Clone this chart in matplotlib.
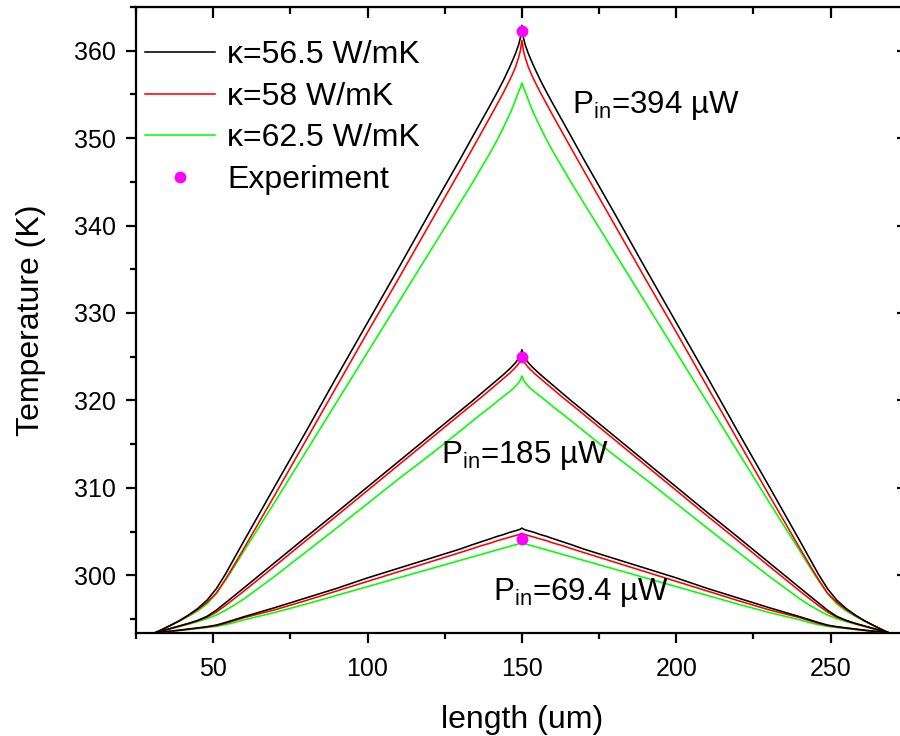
import matplotlib
matplotlib.use("Agg")
from matplotlib import pyplot as plt
from matplotlib.ticker import MultipleLocator

# positions along the bridge (um) from the left clamp up to the heater at 150 um.
# The profiles are symmetric, so the right half reuses the same readings.
x_half = [25, 31, 33, 36, 39, 42, 45, 48, 51, 54, 57, 60, 70, 80, 90, 100, 110, 120,
          130, 134, 137, 140, 142, 144, 146, 147, 148, 149, 149.5, 150]

# temperature (K), left half
T_394_k565 = [293.4, 293.4, 293.72, 294.25, 294.8, 295.45, 296.2, 297.15, 298.45, 300.15, 302.05,
              303.95, 310.2, 316.4, 322.7, 328.9, 335.1, 341.4, 347.6, 350.15, 352.05, 353.95,
              355.25, 356.6, 358.1, 358.9, 359.75, 360.75, 361.5, 362.9]
T_394_k58 = [293.4, 293.4, 293.71, 294.22, 294.76, 295.38, 296.08, 296.9, 297.95, 299.55, 301.3,
             303.1, 309.2, 315.4, 321.6, 327.8, 333.9, 340.1, 346.3, 348.8, 350.7, 352.6,
             353.9, 355.2, 356.6, 357.35, 358.2, 359.3, 360.0, 361.2]
T_394_k625 = [293.4, 293.4, 293.72, 294.22, 294.75, 295.3, 295.92, 296.72, 297.9, 299.42, 301.08,
              302.8, 308.4, 314.1, 319.8, 325.5, 331.2, 336.9, 342.6, 344.9, 346.7, 348.5,
              349.8, 351.2, 352.7, 353.5, 354.45, 355.35, 355.8, 356.3]

T_185_k565 = [293.4, 293.4, 293.6, 293.9, 294.2, 294.5, 294.84, 295.3, 296.0, 296.85, 297.71,
              298.57, 301.46, 304.35, 307.2, 310.1, 313.0, 315.9, 318.8, 319.95, 320.85, 321.75,
              322.35, 322.95, 323.6, 323.95, 324.35, 324.85, 325.2, 325.8]
T_185_k58 = [293.4, 293.4, 293.59, 293.88, 294.17, 294.46, 294.79, 295.2, 295.78, 296.55, 297.37,
             298.2, 301.06, 303.95, 306.8, 309.7, 312.6, 315.5, 318.4, 319.55, 320.4, 321.3,
             321.9, 322.5, 323.1, 323.45, 323.8, 324.25, 324.55, 325.0]
T_185_k625 = [293.4, 293.4, 293.58, 293.85, 294.12, 294.4, 294.7, 295.03, 295.45, 296.0, 296.62,
              297.3, 299.9, 302.65, 305.4, 308.2, 311.0, 313.7, 316.5, 317.65, 318.5, 319.3,
              319.9, 320.45, 321.0, 321.3, 321.65, 322.05, 322.35, 322.8]

T_69_k565 = [293.4, 293.4, 293.48, 293.6, 293.72, 293.85, 293.98, 294.12, 294.3, 294.6, 294.93,
             295.26, 296.3, 297.4, 298.5, 299.7, 300.8, 301.9, 303.0, 303.5, 303.85, 304.2,
             304.45, 304.65, 304.9, 305.0, 305.1, 305.2, 305.28, 305.4]
T_69_k58 = [293.4, 293.4, 293.48, 293.59, 293.7, 293.82, 293.95, 294.08, 294.24, 294.5, 294.82,
            295.15, 296.05, 297.1, 298.2, 299.3, 300.4, 301.5, 302.6, 303.05, 303.4, 303.7,
            303.95, 304.15, 304.35, 304.45, 304.55, 304.65, 304.72, 304.8]
T_69_k625 = [293.4, 293.4, 293.47, 293.57, 293.68, 293.79, 293.9, 294.02, 294.15, 294.35, 294.6,
             294.9, 295.75, 296.7, 297.7, 298.7, 299.7, 300.7, 301.7, 302.1, 302.4, 302.7,
             302.9, 303.1, 303.3, 303.4, 303.5, 303.6, 303.65, 303.7]

# measured hot-spot temperatures
exp_x = [150, 150, 150]
exp_T = [362.2, 325.0, 304.2]

kappa_labels = ["\u03ba=56.5 W/mK", "\u03ba=58 W/mK", "\u03ba=62.5 W/mK"]
powers = ["394", "185", "69.4"]

# full bridge: left half, then the mirrored positions 150.5 ... 275
length = x_half + [300 - v for v in x_half[-2::-1]]


def full_profile(half):
    # right half reads the same temperatures back down
    return list(half) + list(half[-2::-1])


plt.rcParams["font.family"] = ["Liberation Sans", "DejaVu Sans"]
plt.rcParams["mathtext.fontset"] = "custom"
plt.rcParams["mathtext.rm"] = "Liberation Sans"
plt.rcParams["mathtext.it"] = "Liberation Sans:italic"

fig = plt.figure(figsize=(9, 7.36), dpi=100)
ax = fig.add_axes([0.1511, 0.140, 0.8576, 0.8505])

groups = [
    (T_394_k565, T_394_k58, T_394_k625),
    (T_185_k565, T_185_k58, T_185_k625),
    (T_69_k565, T_69_k58, T_69_k625),
]
for i, (tb, tr, tg) in enumerate(groups):
    ax.plot(length, full_profile(tg), color="#00ff00", lw=1.15,
            label=kappa_labels[2] if i == 0 else None, zorder=2)
    ax.plot(length, full_profile(tr), color="#ff0000", lw=1.15,
            label=kappa_labels[1] if i == 0 else None, zorder=3)
    ax.plot(length, full_profile(tb), color="black", lw=1.15,
            label=kappa_labels[0] if i == 0 else None, zorder=4)

ax.plot(exp_x, exp_T, "o", color="#ff00ff", ms=8.5, mec="none",
        label="Experiment", zorder=5)

ax.set_xlim(25, 275)
ax.set_ylim(293.4, 365)
ax.xaxis.set_major_locator(MultipleLocator(50))
ax.xaxis.set_minor_locator(MultipleLocator(25))
ax.yaxis.set_major_locator(MultipleLocator(10))
ax.yaxis.set_minor_locator(MultipleLocator(5))

for s in ax.spines.values():
    s.set_linewidth(1.6)
ax.tick_params(which="both", direction="out", width=1.6, labelsize=18,
               top=False, right=False)
ax.tick_params(which="major", length=7)
ax.tick_params(which="minor", length=4)
ax.tick_params(axis="y", which="major", pad=7.5)
ax.tick_params(axis="x", which="major", pad=10.5)
# Origin-style inward mirror ticks on top and right
sec_x = ax.secondary_xaxis("top")
sec_x.xaxis.set_major_locator(MultipleLocator(50))
sec_x.xaxis.set_minor_locator(MultipleLocator(25))
sec_x.tick_params(which="both", direction="in", width=1.6, labeltop=False)
sec_x.tick_params(which="major", length=8)
sec_x.tick_params(which="minor", length=5)
sec_y = ax.secondary_yaxis("right")
sec_y.yaxis.set_major_locator(MultipleLocator(10))
sec_y.yaxis.set_minor_locator(MultipleLocator(5))
sec_y.tick_params(which="both", direction="in", width=1.6, labelright=False)
sec_y.tick_params(which="major", length=8)
sec_y.tick_params(which="minor", length=5)

ax.set_xlabel("length (um)", fontsize=23, labelpad=17)
ax.set_ylabel("Temperature (K)", fontsize=23, labelpad=20)

handles, labels = ax.get_legend_handles_labels()
order = [labels.index(l) for l in kappa_labels + ["Experiment"]]
ax.legend([handles[j] for j in order], [labels[j] for j in order],
          loc="upper left", bbox_to_anchor=(0.0, 0.961), frameon=False,
          fontsize=23, handlelength=2.2, handletextpad=0.375,
          labelspacing=0.36, borderpad=0.1, borderaxespad=0.18, numpoints=1)

ax.text(166.2, 352.9, r"P$_{\rm in}$=" + powers[0] + " \u00b5W", fontsize=22.5, va="baseline")
ax.text(123.7, 312.8, r"P$_{\rm in}$=" + powers[1] + " \u00b5W", fontsize=22.5, va="baseline")
ax.text(140.6, 297.2, r"P$_{\rm in}$=" + powers[2] + " \u00b5W", fontsize=22.5, va="baseline")

fig.savefig("out.png", dpi=100)
